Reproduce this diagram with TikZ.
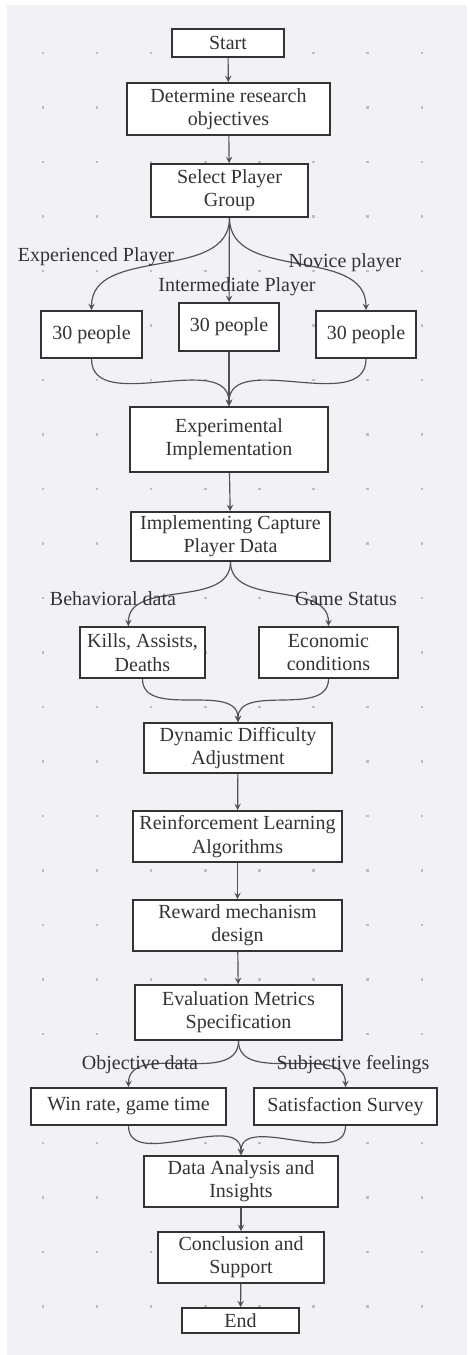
\documentclass[tikz,border=0pt]{standalone}
\usepackage{fontspec}
\setmainfont{Liberation Serif}
\definecolor{bggrey}{HTML}{F2F2F6}
\definecolor{dotgrey}{HTML}{BDBDC2}
\definecolor{ink}{HTML}{333333}

\begin{document}
\begin{tikzpicture}[x=0.6pt, y=-0.6pt, >=stealth,
        box/.style={draw=ink, line width=1.1pt, fill=white, align=center, inner sep=0pt,
            font=\fontsize{12}{14}\selectfont, text=ink},
        wh/.style 2 args={minimum width=#1*0.6pt, minimum height=#2*0.6pt},
        lbl/.style={inner sep=0pt, font=\fontsize{12}{14}\selectfont, text=ink},
        link/.style={->, line width=0.7pt, draw=ink!85}]
        \useasboundingbox (0,0) rectangle (467,1355);

        % canvas
        \fill[bggrey] (7,5) rectangle (467,1355);
        \foreach \i in {0,...,7}
            \foreach \j in {0,...,24}
                \fill[dotgrey] ({43+54.1*\i-1.2},{53+54.5*\j-1.2}) rectangle ++(2.4,2.4);

        % main steps
        \node[box, wh={112}{28}] (start) at (228,43) {Start};
        \node[box, wh={203}{52}] (obj) at (228.5,109) {Determine research\\objectives};
        \node[box, wh={157}{53}] (sel) at (229.5,190.5) {Select Player\\Group};

        % player groups
        \node[box, wh={101}{47}] (grpA) at (91.5,334.5) {30 people};
        \node[box, wh={100}{48}] (grpB) at (229,327) {30 people};
        \node[box, wh={100}{47}] (grpC) at (366,334.5) {30 people};

        \node[box, wh={198}{65}] (impl) at (229,439.5) {Experimental\\Implementation};
        \node[box, wh={199}{49}] (capt) at (230.5,536.5) {Implementing Capture\\Player Data};

        % captured data
        \node[box, wh={125}{51}] (kills) at (142.5,652.5) {Kills, Assists,\\Deaths};
        \node[box, wh={139}{51}] (econ) at (328.5,652.5) {Economic\\conditions};

        \node[box, wh={188}{50}] (dda) at (238,748) {Dynamic Difficulty\\Adjustment};
        \node[box, wh={209}{51}] (rl) at (237.5,836.5) {Reinforcement Learning\\Algorithms};
        \node[box, wh={209}{51}] (rwd) at (237.5,925.5) {Reward mechanism\\design};
        \node[box, wh={207}{55}] (eval) at (238.5,1012.5) {Evaluation Metrics\\Specification};

        % metrics
        \node[box, wh={195}{37}] (win) at (128.5,1106.5) {Win rate, game time};
        \node[box, wh={183}{37}] (sat) at (345.5,1106.5) {Satisfaction Survey};

        \node[box, wh={194}{51}] (ana) at (241,1181.5) {Data Analysis and\\Insights};
        \node[box, wh={166}{51}] (concl) at (241,1257.5) {Conclusion and\\Support};
        \node[box, wh={117}{25}] (end) at (240.5,1320.5) {End};

        % straight links
        \draw[link] (start) -- (obj);
        \draw[link] (obj) -- (sel);
        \draw[link] (sel) -- (grpB);
        \draw[link] (grpB) -- (impl);
        \draw[link] (impl) -- (capt);
        \draw[link] (dda) -- (rl);
        \draw[link] (rl) -- (rwd);
        \draw[link] (rwd) -- (eval);
        \draw[link] (ana) -- (concl);
        \draw[link] (concl) -- (end);

        % branches
        \draw[link] (sel.south) to[out=-90, in=90] (grpA.north);
        \draw[link] (sel.south) to[out=-90, in=90] (grpC.north);
        \draw[link] (grpA.south) to[out=-90, in=90] (impl.north);
        \draw[link] (grpC.south) to[out=-90, in=90] (impl.north);
        \draw[link] (capt.south) to[out=-90, in=90] ([xshift=-8.5pt]kills.north);
        \draw[link] (capt.south) to[out=-90, in=90] (econ.north);
        \draw[link] (kills.south) to[out=-90, in=90] (dda.north);
        \draw[link] (econ.south) to[out=-90, in=90] (dda.north);
        \draw[link] (eval.south) to[out=-90, in=90] (win.north);
        \draw[link] (eval.south) to[out=-90, in=90] (sat.north);
        \draw[link] (win.south) to[out=-90, in=90] (ana.north);
        \draw[link] (sat.south) to[out=-90, in=90] (ana.north);

        % labels
        \node[lbl] (lexp) at (96,257) {Experienced Player};
        \node[lbl] (lint) at (237,287) {Intermediate Player};
        \node[lbl] (lnov) at (345,263) {Novice player};
        \node[lbl] (lbeh) at (113,599) {Behavioral data};
        \node[lbl] (lgame) at (346,599) {Game Status};
        \node[lbl] (lobj) at (140,1065) {Objective data};
        \node[lbl] (lsub) at (353,1065) {Subjective feelings};
    \end{tikzpicture}
\end{document}
